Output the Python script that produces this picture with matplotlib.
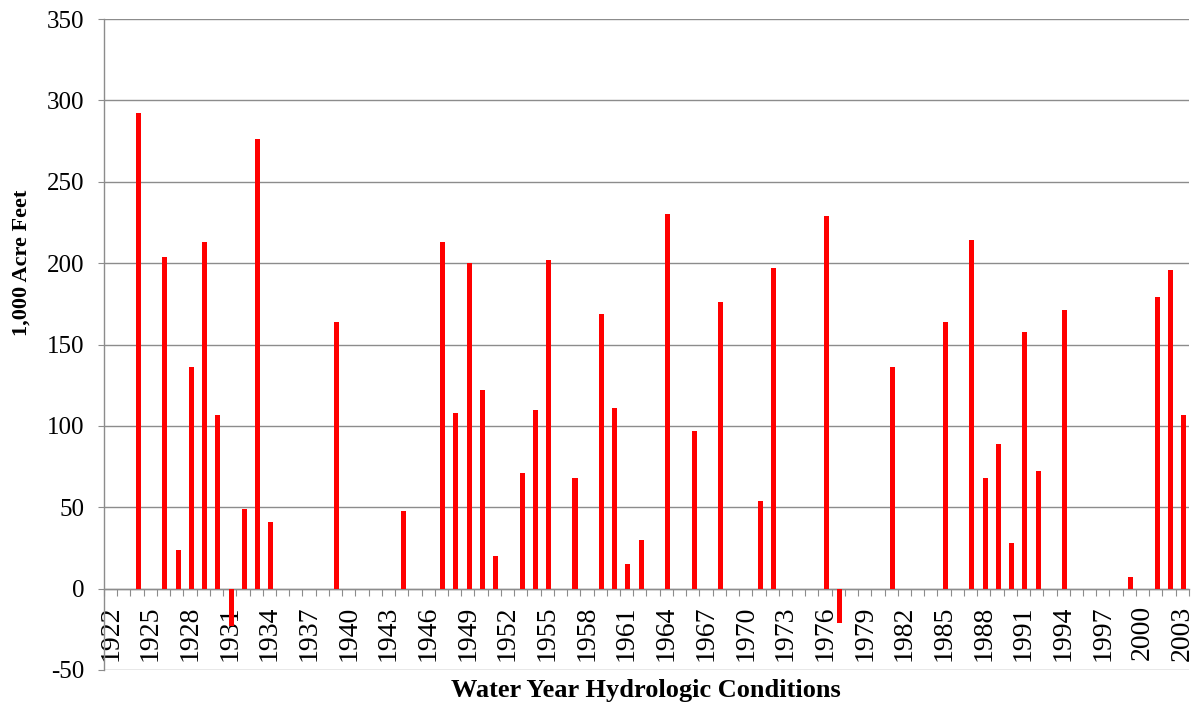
import numpy as np
import matplotlib
matplotlib.use('Agg')
import matplotlib.pyplot as plt


#######################
###   Data          ###
#######################

years = list(range(1922, 2004))

# water years that have a bar, and the bar value [1,000 acre feet]
bar_years = [1924, 1926, 1927, 1928, 1929, 1930, 1931, 1932, 1933, 1934,
             1939, 1944, 1947, 1948, 1949, 1950, 1951, 1953, 1954, 1955,
             1957, 1959, 1960, 1961, 1962, 1964, 1966, 1968, 1971, 1972,
             1976, 1977, 1981, 1985, 1987, 1988, 1989, 1990, 1991, 1992,
             1994, 1999, 2001, 2002, 2003]
bar_values = [292, 204, 24, 136, 213, 107, -23, 49, 276, 41,
              164, 48, 213, 108, 200, 122, 20, 71, 110, 202,
              68, 169, 111, 15, 30, 230, 97, 176, 54, 197,
              229, -21, 136, 164, 214, 68, 89, 28, 158, 72,
              171, 7, 179, 196, 107]

y_ticks = [-50, 0, 50, 100, 150, 200, 250, 300, 350]
label_years = years[::3]

# full series, one value per year
values = np.zeros(len(years))
for yr, v in zip(bar_years, bar_values):
    values[years.index(yr)] = v


#######################
###   Plotting   ######
#######################

plt.rcParams['font.family'] = ['Liberation Serif', 'DejaVu Serif']
grid_col = '#8c8c8c'

fig = plt.figure(figsize=(12, 7.06), dpi=100)
ax = fig.add_axes([0.0867, 0.051, 0.904, 0.922])

x = np.arange(len(years))
ax.bar(x + 0.1, values, width=0.38, color='#ff0000', zorder=3)

ax.set_ylim(-50, 350)
ax.set_xlim(-0.5, len(years) - 0.5)

# y axis
ax.set_yticks(y_ticks)
ax.set_yticklabels([str(t) for t in y_ticks])
ax.yaxis.grid(True, color=grid_col, linewidth=1.0)
ax.set_axisbelow(True)
ax.tick_params(axis='y', direction='out', length=4, color=grid_col,
               labelsize=18, pad=10)

# x axis crosses at zero, ticks between categories, labels every 3 years
ax.spines['bottom'].set_position(('data', 0))
ax.set_xticks(np.arange(-0.5, len(years), 1.0))
ax.set_xticklabels([])
ax.set_xticks([years.index(yr) for yr in label_years], minor=True)
ax.set_xticklabels([str(yr) for yr in label_years], minor=True, rotation=90)
ax.tick_params(axis='x', which='major', direction='out', length=5, color=grid_col)
ax.tick_params(axis='x', which='minor', length=0, labelsize=20, pad=12)

for s in ['top', 'right']:
    ax.spines[s].set_visible(False)
for s in ['left', 'bottom']:
    ax.spines[s].set_color(grid_col)
    ax.spines[s].set_linewidth(1.0)

ax.set_ylabel('1,000 Acre Feet', fontsize=16, fontweight='bold')
ax.yaxis.set_label_coords(-0.067, 0.625)
fig.text(0.538, 0.022, 'Water Year Hydrologic Conditions', ha='center',
         va='center', fontsize=19, fontweight='bold')

plt.savefig('out.png', dpi=100)
